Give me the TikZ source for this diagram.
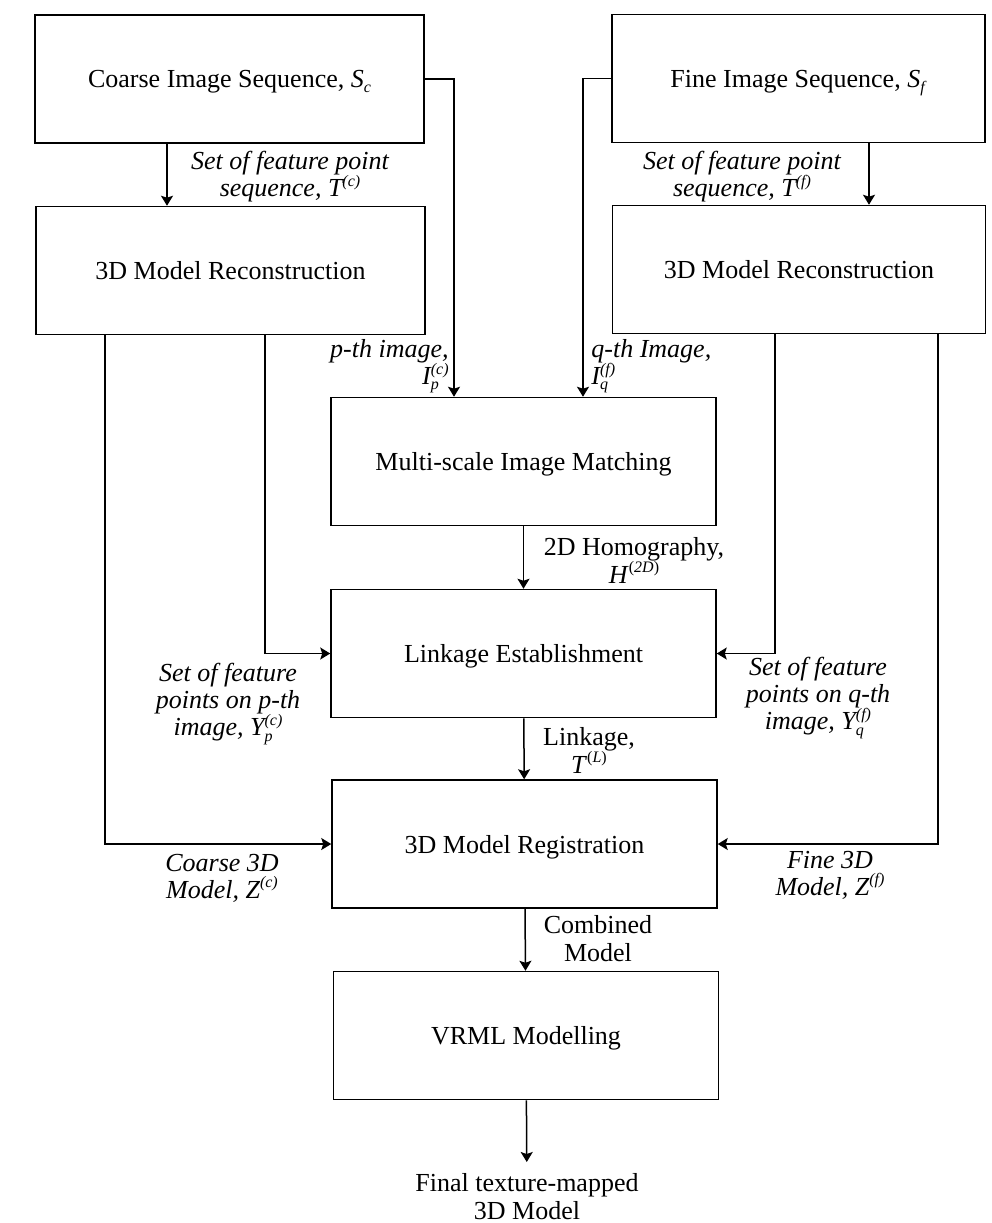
\documentclass[tikz,border=0pt]{standalone}
\usepackage{fontspec}
\setmainfont{Liberation Serif}
\usetikzlibrary{arrows.meta}

% small raised / lowered indices
\newcommand{\idxup}[1]{\raisebox{0.85ex}{\fontsize{8}{8}\selectfont #1}}
\newcommand{\idxdn}[1]{\raisebox{-0.45ex}{\fontsize{8}{8}\selectfont #1}}
\newcommand{\supsub}[2]{\rlap{\idxdn{#1}}\idxup{#2}}

\tikzset{
  stage/.style={draw, line width=0.75pt, minimum width=192.5pt, minimum height=64pt,
    inner sep=0pt, text depth=0pt, font=\fontsize{13}{15}\selectfont},
  flow/.style={-{Stealth[length=5pt,width=6pt,inset=1pt]}, line width=0.75pt},
  note/.style={align=center, inner sep=0pt, font=\fontsize{13}{13.5}\selectfont\itshape},
  plain/.style={align=center, inner sep=0pt, font=\fontsize{13}{14}\selectfont},
}

\begin{document}
\begin{tikzpicture}[x=0.5pt, y=-0.5pt]
\useasboundingbox (0,0) rectangle (992,1223);

% the two sequences and their reconstructions
\node[stage, minimum width=194.5pt] (coarse) at (229.5,79) {Coarse Image Sequence, \textit{S}\idxdn{\textit{c}}};
\node[stage, minimum width=194.5pt] (crec) at (230.5,270.5) {3D Model Reconstruction};
\node[stage, minimum width=186.5pt] (fine) at (798.5,78.5) {Fine Image Sequence, \textit{S}\idxdn{\textit{f}}};
\node[stage, minimum width=186.5pt] (frec) at (799,269.5) {3D Model Reconstruction};

% middle column
\node[stage] (match) at (523.5,461.5) {Multi-scale Image Matching};
\node[stage] (link) at (523.5,653.5) {Linkage Establishment};
\node[stage] (reg) at (524.5,844) {3D Model Registration};
\node[stage] (vrml) at (526,1035.5) {VRML Modelling};
\node[plain, anchor=north, inner xsep=2pt, inner ysep=5.5pt] (final) at (527,1162) {Final texture-mapped\\3D Model};

% x positions of the side branches
\coordinate (tc) at (167,0);
\coordinate (tf) at (869,0);
\coordinate (pin) at (454,0);
\coordinate (qin) at (583,0);
\coordinate (zc) at (105,0);
\coordinate (yc) at (265,0);
\coordinate (yf) at (775,0);
\coordinate (zf) at (938,0);

% connectors
\draw[flow] (coarse.south -| tc) -- (crec.north -| tc);
\draw[flow] (fine.south -| tf) -- (frec.north -| tf);
\draw[flow] (coarse.east) -| (match.north -| pin);
\draw[flow] (fine.west) -| (match.north -| qin);
\draw[flow] (crec.south -| yc) |- (link.west);
\draw[flow] (crec.south -| zc) |- (reg.west);
\draw[flow] (frec.south -| yf) |- (link.east);
\draw[flow] (frec.south -| zf) |- (reg.east);
\draw[flow] (match) -- (link);
\draw[flow] (link) -- (reg);
\draw[flow] (reg) -- (vrml);
\draw[flow] (vrml) -- (final);

% connector labels
\node[note] (lTc) at (290,177) {Set of feature point\\sequence, \textit{T}\idxup{(\textit{c})}};
\node[note] (lTf) at (742,177) {Set of feature point\\sequence, \textit{T}\idxup{(\textit{f})}};
\node[note, anchor=east, align=right] (lIp) at (449,366) {p-th image,\\\textit{I}\supsub{p}{(c)}};
\node[note, anchor=west, align=left] (lIq) at (591,366) {q-th Image,\\\textit{I}\supsub{q}{(f)}};
\node[plain] (lH) at (634,560) {2D Homography,\\\textit{H}\idxup{(\textit{2D})}};
\node[plain] (lL) at (589,750) {Linkage,\\\textit{T}\idxup{(\textit{L})}};
\node[plain] (lComb) at (598,939) {Combined\\Model};
\node[note] (lYp) at (228,704) {Set of feature\\points on p-th\\image, \textit{Y}\supsub{p}{(c)}};
\node[note] (lYq) at (818,698) {Set of feature\\points on q-th\\image, \textit{Y}\supsub{q}{(f)}};
\node[note] (lZc) at (222,878) {Coarse 3D\\Model, \textit{Z}\idxup{(c)}};
\node[note] (lZf) at (830,875) {Fine 3D\\Model, \textit{Z}\idxup{(f)}};
\end{tikzpicture}
\end{document}
